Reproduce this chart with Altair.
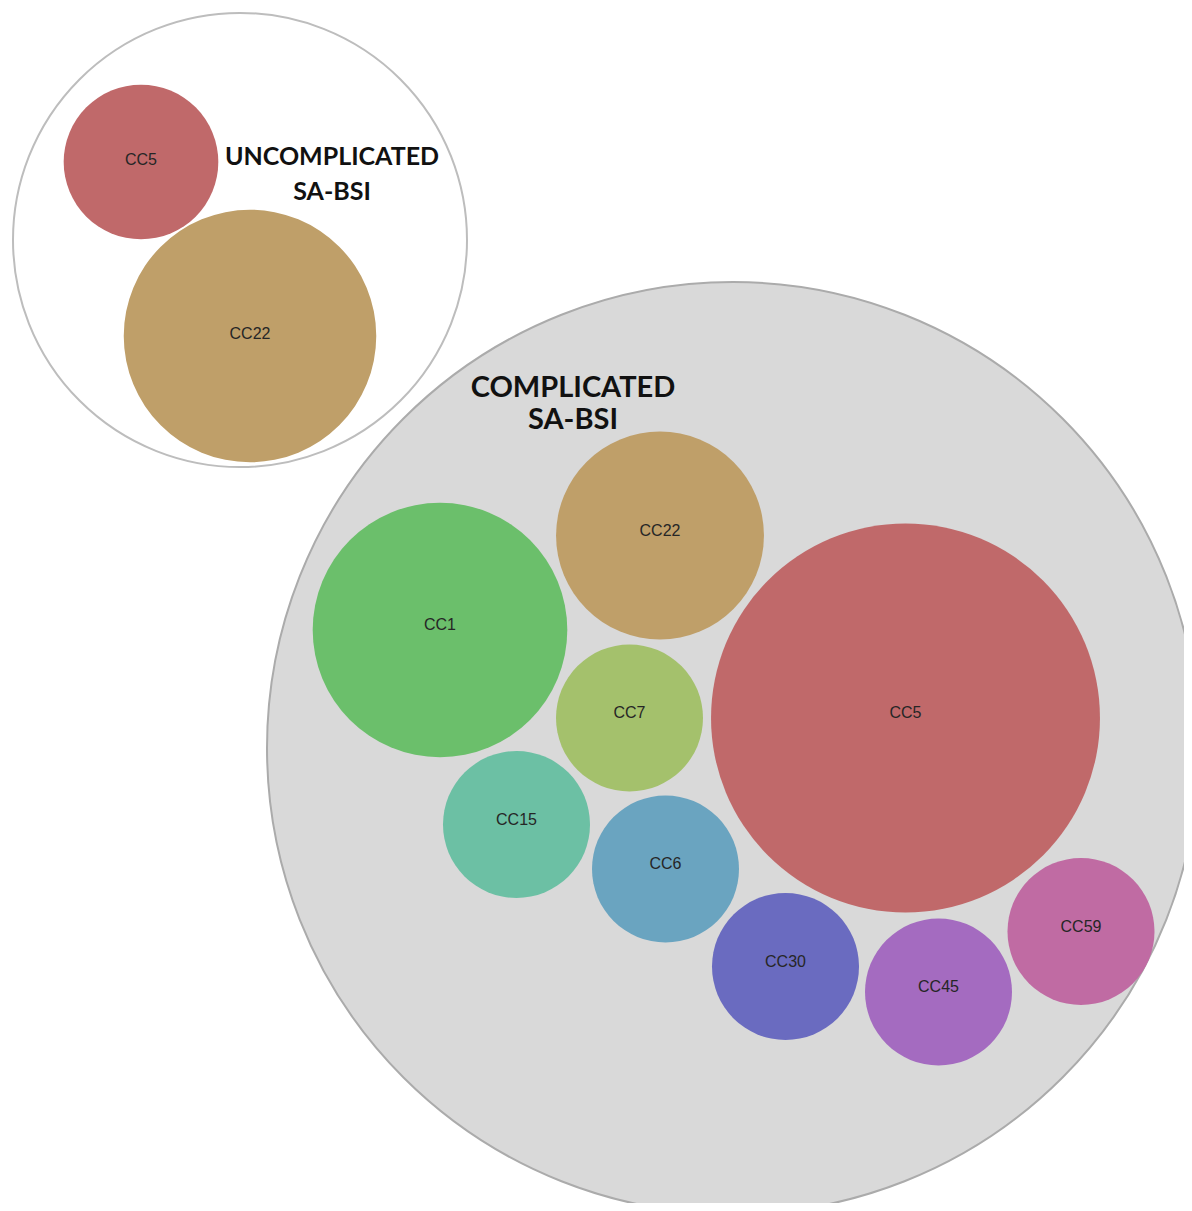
import altair as alt
import pandas as pd

# ---------------- data ----------------
uncomp_ccs = ["CC5", "CC22"]
uncomp_counts = [3, 8]

comp_ccs = ["CC5", "CC1", "CC22", "CC7", "CC15", "CC6", "CC30", "CC45", "CC59"]
comp_counts = [7, 3, 2, 1, 1, 1, 1, 1, 1]

cc_order = ["CC5", "CC22", "CC1", "CC7", "CC15", "CC6", "CC30", "CC45", "CC59"]
cc_colors = ["#C0696A", "#BF9F69", "#6BBF6B", "#A4C16C", "#6CC0A4",
             "#6AA4C0", "#6A6BC0", "#A46BC0", "#C06BA3"]

group_titles = [["UNCOMPLICATED", "SA-BSI"], ["COMPLICATED", "SA-BSI"]]

# ---------------- layout (packing result, page pixels) ----------------
uncomp_cx = [141, 250]
uncomp_cy = [162, 336]
comp_cx = [905.5, 440, 660, 629.5, 516.5, 665.5, 785.5, 938.5, 1081]
comp_cy = [718, 630, 535.5, 718, 824.5, 869, 966.5, 992, 931.5]

outer_cx = [240, 733]
outer_cy = [240, 748]
outer_diam = [454, 932]
outer_fill = ["#FFFFFF", "#D9D9D9"]
outer_stroke = ["#BDBDBD", "#ABABAB"]

title_cx = [332, 573]
title_cy = [[157, 192], [388, 420]]
title_size = [25, 29]

comp_unit_d2 = 147 ** 2
uncomp_unit_d2 = 7970

W, H = 1176, 1195
xs = alt.Scale(domain=[8, 8 + W], nice=False, zero=False)
ys = alt.Scale(domain=[8, 8 + H], reverse=True, nice=False, zero=False)

color = alt.Color("cc:N", scale=alt.Scale(domain=cc_order, range=cc_colors), legend=None)

outer_df = pd.DataFrame({
    "x": outer_cx, "y": outer_cy,
    "s": [d * d for d in outer_diam],
    "fill": outer_fill, "stroke": outer_stroke,
})
uncomp_df = pd.DataFrame({"cc": uncomp_ccs, "count": uncomp_counts,
                          "x": uncomp_cx, "y": uncomp_cy})
comp_df = pd.DataFrame({"cc": comp_ccs, "count": comp_counts,
                        "x": comp_cx, "y": comp_cy})

rows = []
for gi, lines in enumerate(group_titles):
    for li, line in enumerate(lines):
        rows.append({"t": line, "x": title_cx[gi], "y": title_cy[gi][li], "g": gi})
title_df = pd.DataFrame(rows)

X = alt.X("x:Q", scale=xs, axis=None)
Y = alt.Y("y:Q", scale=ys, axis=None)

outer = alt.Chart(outer_df).mark_circle(opacity=1, strokeWidth=2).encode(
    x=X, y=Y,
    size=alt.Size("s:Q", scale=None),
    fill=alt.Fill("fill:N", scale=None),
    stroke=alt.Stroke("stroke:N", scale=None),
)

uncomp = alt.Chart(uncomp_df).mark_circle(opacity=1).encode(
    x=X, y=Y, color=color,
    size=alt.Size("count:Q", scale=alt.Scale(domain=[0, 8], range=[0, 8 * uncomp_unit_d2]), legend=None),
)

comp = alt.Chart(comp_df).mark_circle(opacity=1).encode(
    x=X, y=Y, color=color,
    size=alt.Size("count:Q", scale=alt.Scale(domain=[0, 7], range=[0, 7 * comp_unit_d2]), legend=None),
)

label_style = dict(font="Liberation Sans", fontSize=16, color="#262626", baseline="middle")
uncomp_labels = alt.Chart(uncomp_df).mark_text(dy=-2, **label_style).encode(x=X, y=Y, text="cc:N")
comp_labels = alt.Chart(comp_df).mark_text(dy=-5, **label_style).encode(x=X, y=Y, text="cc:N")

t_unc = alt.Chart(title_df[title_df.g == 0]).mark_text(
    font="Lato", fontWeight="bold", fontSize=title_size[0], color="#111111", baseline="middle"
).encode(x=X, y=Y, text="t:N")
t_comp = alt.Chart(title_df[title_df.g == 1]).mark_text(
    font="Lato", fontWeight="bold", fontSize=title_size[1], color="#111111", baseline="middle"
).encode(x=X, y=Y, text="t:N")

chart = alt.layer(outer, uncomp, comp, uncomp_labels, comp_labels, t_unc, t_comp).resolve_scale(
    size="independent"
).properties(
    width=W, height=H, padding=0,
    autosize=alt.AutoSizeParams(type="none"),
    background="white",
).configure_view(stroke=None)

chart.save("out.html", embed_options={"renderer": "svg", "actions": False})
